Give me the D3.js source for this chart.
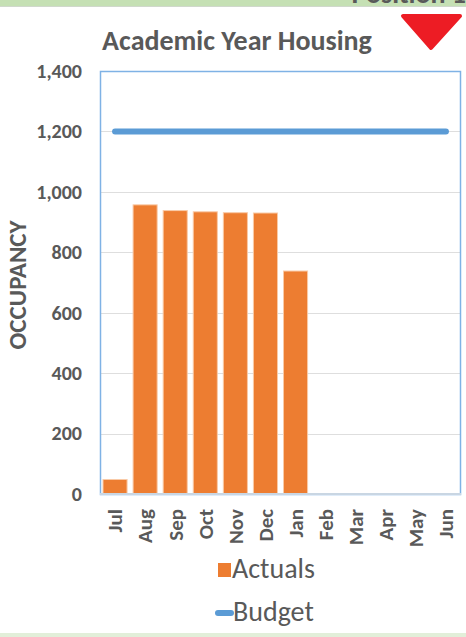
<!DOCTYPE html>
<html>
<head>
<meta charset="utf-8">
<script src="https://cdn.jsdelivr.net/npm/d3@7"></script>
<style>
  html, body { margin: 0; padding: 0; background: #fff; }
  svg { display: block; font-family: Carlito, "Open Sans", "Liberation Sans", sans-serif; }
</style>
</head>
<body>
<svg id="chart" width="466" height="637"></svg>
<script>
// data
var months = ["Jul", "Aug", "Sep", "Oct", "Nov", "Dec", "Jan", "Feb", "Mar", "Apr", "May", "Jun"];
var actuals = [48, 957, 938, 934, 931, 930, 738, null, null, null, null, null];
var budget = [1200, 1200, 1200, 1200, 1200, 1200, 1200, 1200, 1200, 1200, 1200, 1200];
var yTicks = [0, 200, 400, 600, 800, 1000, 1200, 1400];

var svg = d3.select("#chart"),
  width = 466,
  height = 637;

var plot = {left: 100, top: 71, right: 461, bottom: 494};

var x = d3.scaleBand()
  .domain(months)
  .range([plot.left, plot.right])
  .paddingInner(0.2)
  .paddingOuter(0.1);

var y = d3.scaleLinear()
  .domain([0, 1400])
  .range([plot.bottom, plot.top]);

var grey = "#595959";

// top band with clipped heading
svg.append("rect")
  .attr("x", 0).attr("y", 0)
  .attr("width", width).attr("height", 6)
  .attr("fill", "#c5e0b4");
svg.append("line")
  .attr("x1", 0).attr("x2", width)
  .attr("y1", 6.5).attr("y2", 6.5)
  .attr("stroke", "#d0d8cc").attr("stroke-width", 1);
svg.append("text")
  .attr("x", 466).attr("y", 3)
  .attr("text-anchor", "end")
  .attr("font-size", 28).attr("font-weight", "bold")
  .attr("fill", grey)
  .text("Position 1");

// bottom band
svg.append("rect")
  .attr("x", 0).attr("y", 633)
  .attr("width", width).attr("height", 4)
  .attr("fill", "#e2efd9");

// title
svg.append("text")
  .attr("x", 237).attr("y", 50)
  .attr("text-anchor", "middle")
  .attr("font-size", 28).attr("font-weight", "bold")
  .attr("fill", grey)
  .text("Academic Year Housing");

// red indicator triangle
svg.append("path")
  .attr("d", "M403,16 L460,16 L431,48 Z")
  .attr("fill", "#ed1c24")
  .attr("stroke", "#ed1c24")
  .attr("stroke-width", 4)
  .attr("stroke-linejoin", "round");

// gridlines
svg.append("g")
  .selectAll("line")
  .data(yTicks.filter(function(d) { return d > 0 && d < 1400; }))
  .join("line")
  .attr("x1", plot.left).attr("x2", plot.right)
  .attr("y1", function(d) { return Math.round(y(d)) + 0.5; })
  .attr("y2", function(d) { return Math.round(y(d)) + 0.5; })
  .attr("stroke", "#dedede")
  .attr("stroke-width", 1.2);

// y axis tick labels
var yAxis = svg.append("g")
  .attr("transform", "translate(" + plot.left + ",0)")
  .call(d3.axisLeft(y).tickValues(yTicks).tickSize(0).tickPadding(18).tickFormat(d3.format(",")));
yAxis.select(".domain").remove();
yAxis.selectAll("text")
  .attr("font-size", 20).attr("font-weight", "bold")
  .attr("font-family", "Carlito, 'Open Sans', sans-serif")
  .attr("fill", grey);

// axis title
svg.append("text")
  .attr("transform", "translate(26,285) rotate(-90)")
  .attr("text-anchor", "middle")
  .attr("font-size", 25).attr("font-weight", "bold")
  .attr("fill", grey)
  .text("OCCUPANCY");

// bars
svg.append("g")
  .selectAll("rect")
  .data(months.map(function(m, i) { return {month: m, value: actuals[i]}; })
    .filter(function(d) { return d.value != null; }))
  .join("rect")
  .attr("x", function(d) { return x(d.month); })
  .attr("y", function(d) { return y(d.value); })
  .attr("width", x.bandwidth())
  .attr("height", function(d) { return y(0) - y(d.value); })
  .attr("fill", "#ed7d31")
  .attr("stroke", "#f9caa7")
  .attr("stroke-width", 1);

// budget line
var line = d3.line()
  .x(function(d, i) { return x(months[i]) + x.bandwidth() / 2; })
  .y(function(d) { return y(d); });

svg.append("path")
  .datum(budget)
  .attr("d", line)
  .attr("fill", "none")
  .attr("stroke", "#5b9bd5")
  .attr("stroke-width", 6)
  .attr("stroke-linecap", "round");

// plot border
svg.append("rect")
  .attr("x", plot.left + 0.5).attr("y", plot.top + 0.5)
  .attr("width", plot.right - plot.left - 1)
  .attr("height", plot.bottom - plot.top)
  .attr("fill", "none")
  .attr("stroke", "#7fb2e5")
  .attr("stroke-width", 1.5);
svg.append("line")
  .attr("x1", plot.left).attr("x2", plot.right)
  .attr("y1", plot.bottom).attr("y2", plot.bottom)
  .attr("stroke", "#c9d6e3")
  .attr("stroke-width", 2);

// x labels
var xAxis = svg.append("g")
  .attr("transform", "translate(0," + plot.bottom + ")")
  .call(d3.axisBottom(x).tickSize(0).tickPadding(0));
xAxis.select(".domain").remove();
xAxis.selectAll("text")
  .attr("transform", "translate(0,15) rotate(-90)")
  .attr("text-anchor", "end")
  .attr("dy", "0.35em")
  .attr("x", 0).attr("y", 0)
  .attr("font-size", 21).attr("font-weight", "bold")
  .attr("font-family", "Carlito, 'Open Sans', sans-serif")
  .attr("fill", grey);

// legend
var legend = svg.append("g");
legend.append("rect")
  .attr("x", 218).attr("y", 563)
  .attr("width", 13).attr("height", 14)
  .attr("fill", "#ed7d31");
legend.append("text")
  .attr("x", 232).attr("y", 578)
  .attr("font-size", 28)
  .attr("fill", grey)
  .text("Actuals");
legend.append("line")
  .attr("x1", 218).attr("x2", 231)
  .attr("y1", 613).attr("y2", 613)
  .attr("stroke", "#5b9bd5")
  .attr("stroke-width", 6)
  .attr("stroke-linecap", "round");
legend.append("text")
  .attr("x", 233).attr("y", 621)
  .attr("font-size", 28)
  .attr("fill", grey)
  .text("Budget");
</script>
</body>
</html>
